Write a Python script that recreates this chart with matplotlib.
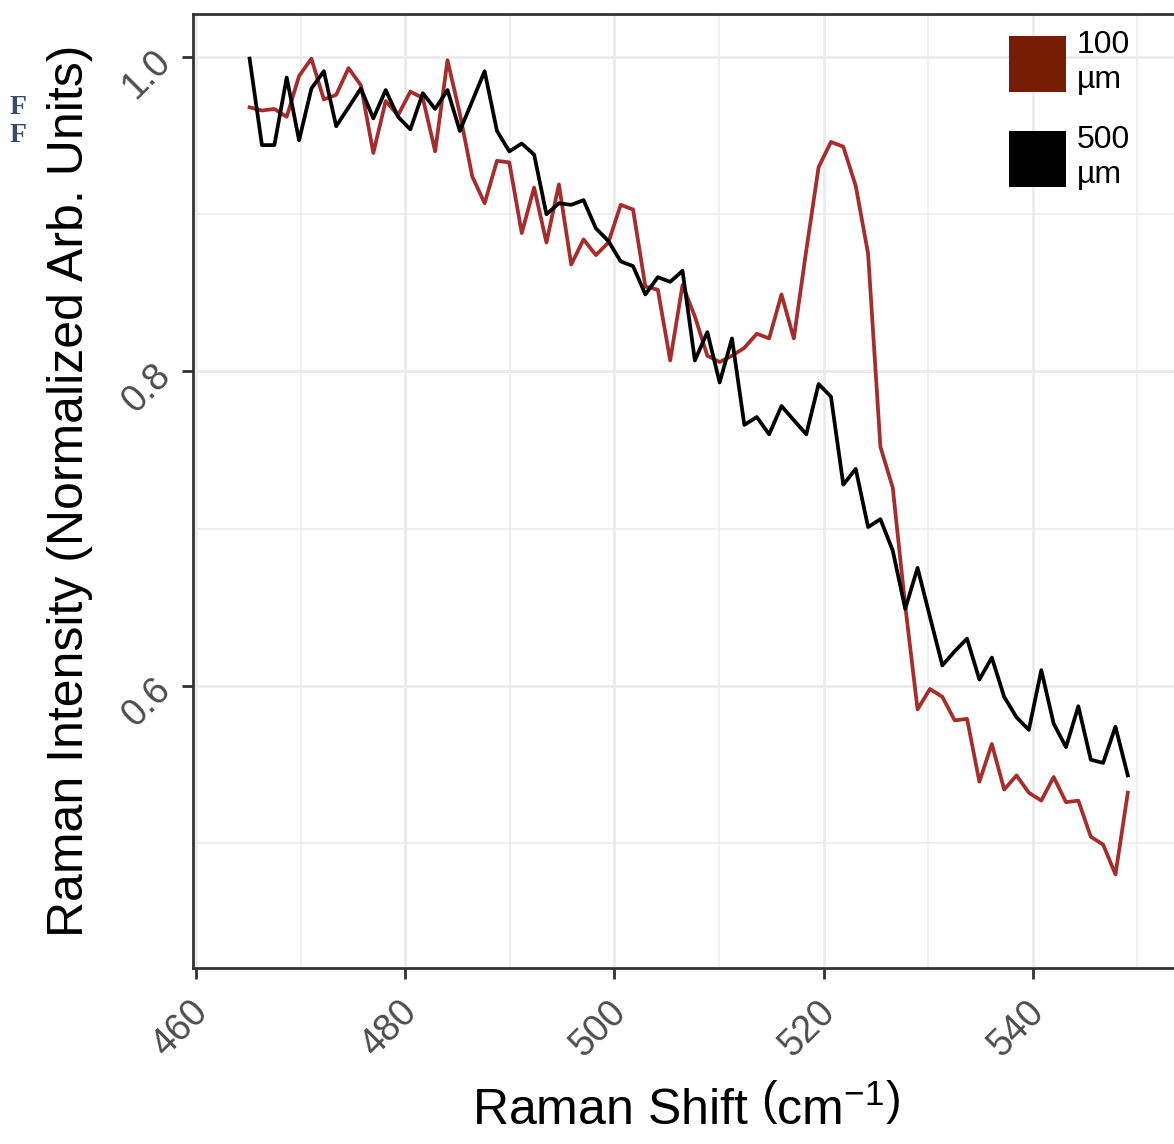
import numpy as np
import matplotlib
matplotlib.use("Agg")
import matplotlib.pyplot as plt
from matplotlib.patches import Patch
from matplotlib.ticker import MultipleLocator
from matplotlib.transforms import ScaledTranslation

plt.rcParams["font.family"] = ["Liberation Sans", "DejaVu Sans"]
plt.rcParams["mathtext.fontset"] = "custom"
plt.rcParams["mathtext.rm"] = "Liberation Sans"
plt.rcParams["mathtext.it"] = "Liberation Sans:italic"

# Raman shift (cm^-1), одна сетка для обоих спектров
shift = [465.12, 466.30, 467.49, 468.67, 469.85, 471.03, 472.22, 473.40, 474.58, 475.76,
         476.95, 478.13, 479.31, 480.49, 481.68, 482.86, 484.04, 485.22, 486.41, 487.59,
         488.77, 489.95, 491.14, 492.32, 493.50, 494.69, 495.87, 497.05, 498.23, 499.42,
         500.60, 501.78, 502.96, 504.15, 505.33, 506.51, 507.69, 508.88, 510.06, 511.24,
         512.42, 513.61, 514.79, 515.97, 517.15, 518.34, 519.52, 520.70, 521.88, 523.07,
         524.25, 525.43, 526.61, 527.80, 528.98, 530.16, 531.35, 532.53, 533.71, 534.89,
         536.08, 537.26, 538.44, 539.62, 540.81, 541.99, 543.17, 544.35, 545.54, 546.72,
         547.90, 549.08]

int_100um = [0.968, 0.966, 0.967, 0.962, 0.988, 0.999, 0.973, 0.976, 0.993, 0.982,
             0.939, 0.972, 0.963, 0.978, 0.974, 0.940, 0.998, 0.964, 0.924, 0.907,
             0.934, 0.933, 0.888, 0.917, 0.882, 0.919, 0.868, 0.884, 0.874, 0.882,
             0.906, 0.903, 0.854, 0.852, 0.807, 0.855, 0.835, 0.810, 0.806, 0.810,
             0.815, 0.824, 0.821, 0.849, 0.821, 0.877, 0.930, 0.946, 0.943, 0.918,
             0.875, 0.752, 0.726, 0.651, 0.585, 0.598, 0.593, 0.578, 0.579, 0.539,
             0.563, 0.534, 0.543, 0.532, 0.527, 0.542, 0.526, 0.527, 0.504, 0.499,
             0.480, 0.532]

int_500um = [0.999, 0.944, 0.944, 0.987, 0.947, 0.980, 0.991, 0.956, 0.968, 0.980,
             0.961, 0.979, 0.962, 0.954, 0.977, 0.967, 0.979, 0.953, 0.972, 0.991,
             0.953, 0.940, 0.945, 0.938, 0.900, 0.907, 0.906, 0.909, 0.891, 0.883,
             0.870, 0.867, 0.849, 0.860, 0.857, 0.864, 0.807, 0.825, 0.793, 0.821,
             0.766, 0.771, 0.760, 0.778, 0.769, 0.760, 0.792, 0.784, 0.728, 0.738,
             0.701, 0.706, 0.686, 0.649, 0.675, 0.644, 0.613, 0.622, 0.630, 0.604,
             0.618, 0.593, 0.580, 0.572, 0.610, 0.576, 0.561, 0.587, 0.553, 0.551,
             0.574, 0.543]

labels = ["100\nµm", "500\nµm"]
line_colors = ["#A82C2A", "#000000"]
key_colors = ["#771D04", "#000000"]
xticks = [460, 480, 500, 520, 540]
yticks = [0.6, 0.8, 1.0]

W, H = 1174, 1144
fig = plt.figure(figsize=(W / 100, H / 100), dpi=100)
# панель обрезана справа краем картинки
ax = fig.add_axes([193 / W, 1 - 968 / H, 987 / W, 954 / H])

ax.plot(shift, int_100um, color=line_colors[0], lw=2.7, solid_joinstyle="round")
ax.plot(shift, int_500um, color=line_colors[1], lw=2.7, solid_joinstyle="round")

ax.set_xlim(459.71, 554.07)
ax.set_ylim(0.4205, 1.0274)

ax.set_xticks(xticks)
ax.set_yticks(yticks)
ax.set_xticklabels([str(t) for t in xticks])
ax.set_yticklabels([f"{t:.1f}" for t in yticks])
ax.xaxis.set_minor_locator(MultipleLocator(10))
ax.yaxis.set_minor_locator(MultipleLocator(0.1))

ax.set_axisbelow(True)
ax.grid(which="major", color="#EBEBEB", lw=2.0)
ax.grid(which="minor", color="#EBEBEB", lw=1.1)
ax.tick_params(which="minor", length=0)
ax.tick_params(which="major", length=8, width=2.0, color="#333333",
               labelcolor="#4D4D4D", labelsize=27)
ax.tick_params(axis="x", pad=11)
ax.tick_params(axis="y", pad=3)

for side in ("left", "top", "bottom"):
    ax.spines[side].set_color("#333333")
    ax.spines[side].set_linewidth(2.0)
ax.spines["right"].set_visible(False)

# повернутые подписи как в ggplot (angle=45)
dx = ScaledTranslation(0.19, 0, fig.dpi_scale_trans)
for lab in ax.get_xticklabels():
    lab.set_rotation(45)
    lab.set_ha("right")
    lab.set_va("top")
    lab.set_transform(lab.get_transform() + dx)
dy = ScaledTranslation(0, 0.14, fig.dpi_scale_trans)
for lab in ax.get_yticklabels():
    lab.set_rotation(45)
    lab.set_ha("right")
    lab.set_va("top")
    lab.set_transform(lab.get_transform() + dy)

fig.text(686 / W, 1 - 1110 / H, r"Raman Shift $\left(\mathrm{cm}^{-1}\right)$",
         ha="center", va="center", fontsize=36)
fig.text(70 / W, 1 - 491 / H, "Raman Intensity (Normalized Arb. Units)",
         ha="center", va="center", rotation=90, fontsize=36)

handles = [Patch(facecolor=c, edgecolor="none") for c in key_colors]
fig.legend(handles, labels, loc="upper left", bbox_to_anchor=(1009 / W, 1 - 30 / H),
           frameon=False, fontsize=23, handlelength=1.78, handleheight=2.3,
           handletextpad=0.34, labelspacing=0.95, borderpad=0, borderaxespad=0)

# обрезки текста страницы слева
for yy in (108, 136):
    fig.text(10 / W, 1 - yy / H, "F", family=["Liberation Serif", "DejaVu Serif"],
             weight="bold", color="#3A4A6A", fontsize=20, ha="left", va="center")

fig.savefig("out.png", dpi=100)
